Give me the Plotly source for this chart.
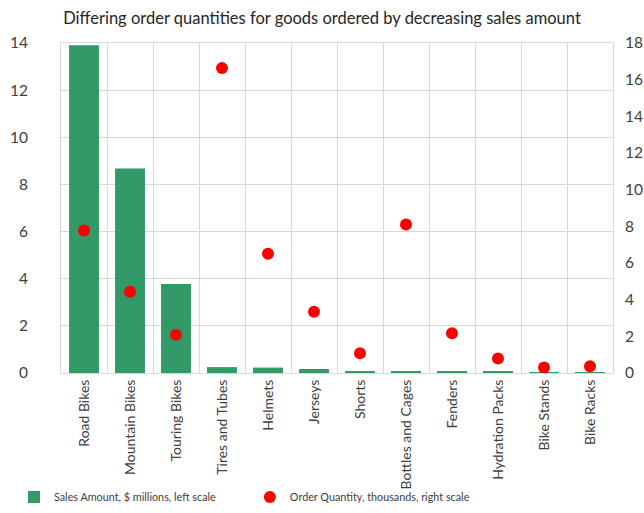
import plotly.graph_objects as go

categories = ["Road Bikes", "Mountain Bikes", "Touring Bikes", "Tires and Tubes", "Helmets",
              "Jerseys", "Shorts", "Bottles and Cages", "Fenders", "Hydration Packs",
              "Bike Stands", "Bike Racks"]
sales_millions = [13.9, 8.68, 3.78, 0.25, 0.23, 0.17, 0.07, 0.06, 0.05, 0.05, 0.04, 0.04]
order_qty_thousands = [7.77, 4.43, 2.08, 16.63, 6.51, 3.34, 1.08, 8.10, 2.17, 0.79, 0.30, 0.37]

FONT = "Lato"
GREEN = "#339966"
RED = "#ff0000"

fig = go.Figure()
fig.add_trace(go.Bar(x=categories, y=sales_millions, name="Sales Amount, $ millions, left scale",
                     marker=dict(color=GREEN, line=dict(width=0)), yaxis="y", legend="legend"))
fig.add_trace(go.Scatter(x=categories, y=order_qty_thousands, mode="markers",
                         name="Order Quantity, thousands, right scale",
                         marker=dict(color=RED, size=12), yaxis="y2", legend="legend2"))

leg_common = dict(orientation="h", xref="container", yref="container", xanchor="left",
                  y=0.031, yanchor="middle",
                  font=dict(size=10.8, color="#404040"), bgcolor="rgba(0,0,0,0)", itemwidth=30)

fig.update_layout(
    width=644, height=513,
    margin=dict(l=61, r=31, t=43, b=140),
    paper_bgcolor="white", plot_bgcolor="white",
    font=dict(family=FONT, color="#404040"),
    title=dict(text="Differing order quantities for goods ordered by decreasing sales amount",
               x=0.5, xanchor="center", y=0.965, yanchor="middle",
               font=dict(size=16.5, color="#262626", family=FONT)),
    bargap=0.35,
    showlegend=True,
    legend=dict(x=0.0217, **leg_common),
    legend2=dict(x=0.388, **leg_common),
    xaxis=dict(tickangle=-90, tickfont=dict(size=14, color="#404040"), automargin=False,
               range=[-0.5, len(categories) - 0.5],
               showgrid=True, gridcolor="#d9d9d9", tickson="boundaries",
               showline=True, linecolor="#d9d9d9", mirror=True,
               ticks="outside", ticklen=13, tickcolor="white"),
    yaxis=dict(range=[0, 14], dtick=2, tickfont=dict(size=15.5, color="#404040"), automargin=False,
               showgrid=True, gridcolor="#d9d9d9", zeroline=False,
               showline=True, linecolor="#d9d9d9", ticks="outside", ticklen=29,
               tickcolor="white", mirror=False),
    yaxis2=dict(range=[0, 18], dtick=2, overlaying="y", side="right", automargin=False,
                tickfont=dict(size=15.5, color="#404040"), showgrid=False, zeroline=False,
                showline=True, linecolor="#d9d9d9", ticks="outside", ticklen=8, tickcolor="white"),
)

fig.write_html("out.html")
